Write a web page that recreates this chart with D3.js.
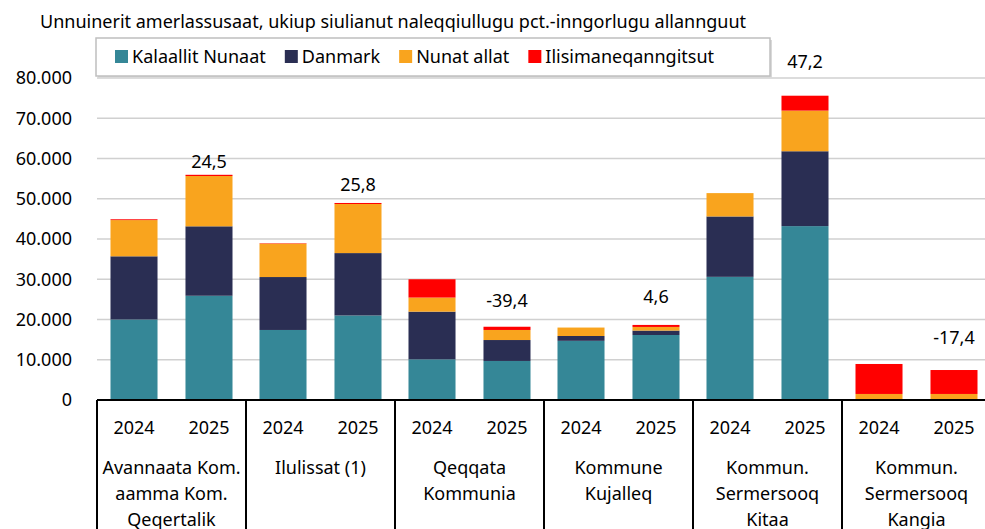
<!DOCTYPE html>
<html>
<head>
<meta charset="utf-8">
<script src="https://cdn.jsdelivr.net/npm/d3@7"></script>
<style>
  body { margin: 0; background: #fff; }
  text { font-family: "Noto Sans", sans-serif; fill: #000; }
</style>
</head>
<body>
<svg id="chart"></svg>
<script>
var width = 985, height = 529;

// data
var categories = [
    ["Avannaata Kom.", "aamma Kom.", "Qeqertalik"],
    ["Ilulissat (1)"],
    ["Qeqqata", "Kommunia"],
    ["Kommune", "Kujalleq"],
    ["Kommun.", "Sermersooq", "Kitaa"],
    ["Kommun.", "Sermersooq", "Kangia"]
];
var years = ["2024", "2025"];
var seriesNames = ["Kalaallit Nunaat", "Danmark", "Nunat allat", "Ilisimaneqanngitsut"];
var seriesColors = ["#358797", "#2a2e53", "#f9a41e", "#ff0000"];

// per category: [2024, 2025]
var kalaallit = [[20000, 25900], [17400, 21000], [10100, 9700], [14700, 16150], [30600, 43200], [0, 0]];
var danmark   = [[15700, 17250], [13150, 15500], [11850, 5200], [1200, 1100], [15000, 18600], [0, 0]];
var nunat     = [[9000, 12500], [8300, 12200], [3500, 2500], [2100, 900], [5800, 10100], [1500, 1500]];
var ilisim    = [[200, 300], [100, 250], [4550, 800], [0, 500], [0, 3700], [7450, 5950]];

var changeLabels = ["24,5", "25,8", "-39,4", "4,6", "47,2", "-17,4"];
var labelAt = [59100, 53400, 24600, 25600, 84000, 15400];

var yTicks = [0, 10000, 20000, 30000, 40000, 50000, 60000, 70000, 80000];
var title = "Unnuinerit amerlassusaat, ukiup siulianut naleqqiullugu pct.-inngorlugu allannguut";

var svg = d3.select("#chart").attr("width", width).attr("height", height);

var margin = {top: 78, left: 97, bottom: 400};
var y = d3.scaleLinear().domain([0, 80000]).range([margin.bottom, margin.top]);
var x0 = d3.scaleBand().domain(d3.range(categories.length)).range([margin.left, margin.left + 149 * 6]);
var x1 = d3.scaleBand().domain(years).range([0, x0.bandwidth()]).paddingInner(0.373).paddingOuter(0.18);

var fmt = function(v) { return d3.format(",")(v).replace(/,/g, "."); };

// gridlines
svg.append("g").selectAll("line")
    .data(yTicks.filter(function(d) { return d > 0; }))
    .enter().append("line")
    .attr("x1", margin.left).attr("x2", width)
    .attr("y1", function(d) { return y(d); }).attr("y2", function(d) { return y(d); })
    .attr("stroke", "#d0d0d0").attr("stroke-width", 1.5);

// y labels
svg.append("g").selectAll("text")
    .data(yTicks)
    .enter().append("text")
    .attr("x", 72).attr("y", function(d) { return y(d); })
    .attr("dy", "0.35em")
    .attr("text-anchor", "end")
    .style("font-size", "18px")
    .text(fmt);

// stacked bars
var stackRows = [];
categories.forEach(function(c, i) {
    years.forEach(function(yr, j) {
        var vals = [kalaallit[i][j], danmark[i][j], nunat[i][j], ilisim[i][j]];
        var base = 0;
        vals.forEach(function(v, k) {
            stackRows.push({cat: i, year: yr, s: k, y0: base, y1: base + v});
            base += v;
        });
    });
});

svg.append("g").selectAll("rect")
    .data(stackRows.filter(function(d) { return d.y1 > d.y0; }))
    .enter().append("rect")
    .attr("x", function(d) { return x0(d.cat) + x1(d.year); })
    .attr("width", x1.bandwidth())
    .attr("y", function(d) { return y(d.y1); })
    .attr("height", function(d) { return y(d.y0) - y(d.y1); })
    .attr("fill", function(d) { return seriesColors[d.s]; });

// change labels over the 2025 bars
svg.append("g").selectAll("text")
    .data(changeLabels)
    .enter().append("text")
    .attr("x", function(d, i) { return x0(i) + x1("2025") + x1.bandwidth() / 2; })
    .attr("y", function(d, i) { return y(labelAt[i]); })
    .attr("dy", "0.35em")
    .attr("text-anchor", "middle")
    .style("font-size", "18px")
    .text(function(d) { return d; });

// axis: baseline and group separators
svg.append("line")
    .attr("x1", margin.left).attr("x2", width)
    .attr("y1", y(0)).attr("y2", y(0))
    .attr("stroke", "#000").attr("stroke-width", 2);

svg.append("g").selectAll("line")
    .data(d3.range(categories.length + 1))
    .enter().append("line")
    .attr("x1", function(i) { return margin.left + i * x0.step(); })
    .attr("x2", function(i) { return margin.left + i * x0.step(); })
    .attr("y1", y(0)).attr("y2", height)
    .attr("stroke", "#000").attr("stroke-width", 2);

var groups = svg.append("g").selectAll("g")
    .data(categories)
    .enter().append("g")
    .attr("transform", function(d, i) { return "translate(" + x0(i) + ",0)"; });

groups.selectAll("text.year")
    .data(years)
    .enter().append("text")
    .attr("class", "year")
    .attr("x", function(d) { return x1(d) + x1.bandwidth() / 2; })
    .attr("y", 428).attr("dy", "0.35em")
    .attr("text-anchor", "middle")
    .style("font-size", "18px")
    .text(function(d) { return d; });

groups.selectAll("text.cat")
    .data(function(d) { return d; })
    .enter().append("text")
    .attr("class", "cat")
    .attr("x", x0.bandwidth() / 2)
    .attr("y", function(d, k) { return 468 + k * 26; }).attr("dy", "0.35em")
    .attr("text-anchor", "middle")
    .style("font-size", "18px")
    .text(function(d) { return d; });

// title
svg.append("text")
    .attr("x", 40).attr("y", 22).attr("dy", "0.35em")
    .style("font-size", "18px")
    .text(title);

// legend
var legend = svg.append("g");
legend.append("rect")
    .attr("x", 98).attr("y", 40).attr("width", 674).attr("height", 38)
    .attr("fill", "#d9d9d9");
legend.append("rect")
    .attr("x", 96).attr("y", 38).attr("width", 674).attr("height", 38)
    .attr("fill", "#fff").attr("stroke", "#bfbfbf").attr("stroke-width", 1.5);

var lx = 115;
seriesNames.forEach(function(name, k) {
    legend.append("rect")
        .attr("x", lx).attr("y", 50).attr("width", 13).attr("height", 13)
        .attr("fill", seriesColors[k]);
    var t = legend.append("text")
        .attr("x", lx + 17).attr("y", 57).attr("dy", "0.35em")
        .style("font-size", "18px")
        .text(name);
    lx += 17 + t.node().getComputedTextLength() + 19;
});
</script>
</body>
</html>
